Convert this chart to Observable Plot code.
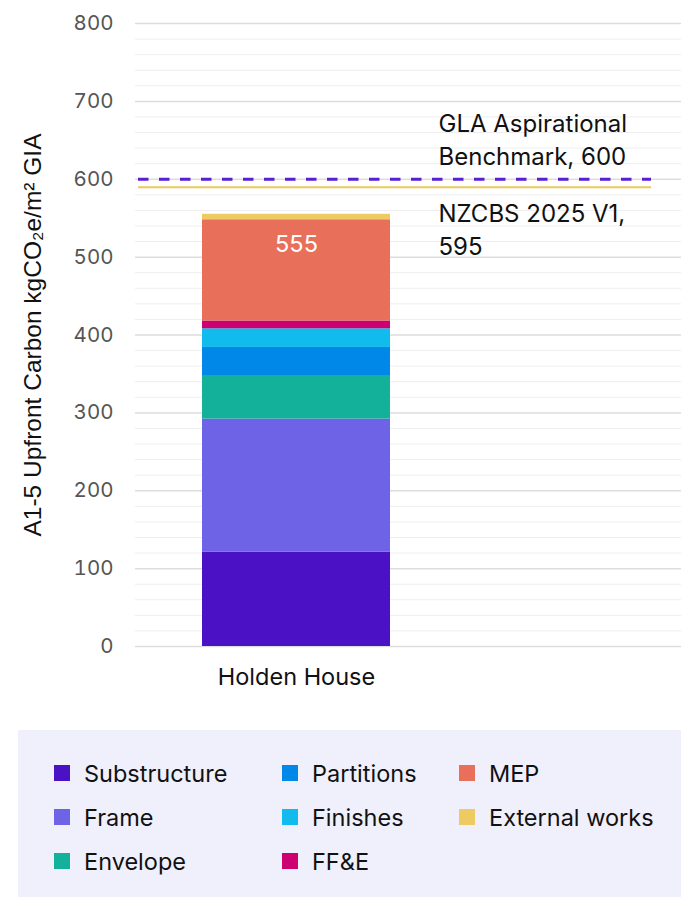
<!DOCTYPE html>
<html>
<head>
<meta charset="utf-8">
<script src="https://cdn.jsdelivr.net/npm/d3@7"></script>
<script src="https://cdn.jsdelivr.net/npm/@observablehq/plot@0.6"></script>
<style>
  html, body { margin: 0; padding: 0; background: #fff; }
  body { width: 681px; font-family: Inter, "Noto Sans", sans-serif; }
  #chart svg { display: block; }
  .legend {
    margin: 10px 0 0 18px;
    background: #f0effc;
    height: 167px;
    box-sizing: border-box;
    padding: 21px 0 0 36px;
    display: grid;
    grid-template-columns: 228px 177px auto;
    grid-auto-rows: 44px;
    font-size: 23.5px;
    color: #111;
  }
  .legend .item { display: flex; align-items: center; height: 44px; }
  .legend .sw { width: 16px; height: 16px; margin-right: 14px; flex: none; }
</style>
</head>
<body>
<div id="chart"></div>
<div class="legend" id="legend"></div>
<script>
// ---- data ----
const categories = ["Holden House"];
const elements = ["Substructure", "Frame", "Envelope", "Partitions", "Finishes", "FF&E", "MEP", "External works"];
const values = [121, 171, 56, 36, 24, 10, 130, 7];
const colors = ["#4a12c4", "#6e63e6", "#13b09a", "#0088e8", "#12bbee", "#cc0070", "#e8705a", "#edcb62"];
const totalLabel = [555];
const benchmarkNames = ["GLA Aspirational\nBenchmark, 600", "NZCBS 2025 V1,\n595"];
const benchmarkValues = [600, 595];
const yTicks = [0, 100, 200, 300, 400, 500, 600, 700, 800];
const yMinorTicks = [20, 40, 60, 80, 120, 140, 160, 180, 220, 240, 260, 280, 320, 340, 360, 380, 420, 440, 460, 480, 520, 540, 560, 580, 620, 640, 660, 680, 720, 740, 760, 780];
const yTitle = "A1-5 Upfront Carbon kgCO₂e/m² GIA";

const rows = elements.map((e, i) => ({building: categories[0], element: e, value: values[i]}));

const chart = Plot.plot({
  width: 681,
  height: 720,
  marginLeft: 135,
  marginRight: 0,
  marginTop: 23,
  marginBottom: 74,
  style: {fontFamily: "Inter, sans-serif", background: "#fff"},
  x: {domain: categories, range: [135, 458], padding: 0.262, label: null},
  y: {domain: [0, 800], label: null},
  color: {domain: elements, range: colors},
  marks: [
    Plot.ruleY(yMinorTicks, {stroke: "#eeeeee", strokeWidth: 1}),
    Plot.ruleY(yTicks, {stroke: "#dddddd", strokeWidth: 1.5}),
    Plot.axisY({ticks: yTicks, tickSize: 0, tickPadding: 22, fontSize: 20.5, fill: "#555", label: null}),
    Plot.text([yTitle], {
      frameAnchor: "left", textAnchor: "middle", dx: -102, rotate: -90, fontSize: 24.5,
      fontFamily: "Liberation Sans, Arial, sans-serif", fill: "#111"
    }),
    Plot.axisX({tickSize: 0, tickPadding: 22, fontSize: 23.5, fill: "#111", label: null}),
    Plot.barY(rows, {x: "building", y: "value", fill: "element"}),
    Plot.text(totalLabel, {x: () => categories[0], y: d => d, text: d => String(d), fill: "#fff", fontSize: 23.5, dy: 30}),
    Plot.ruleY([benchmarkValues[1]], {stroke: "#edc95a", strokeWidth: 2, insetLeft: 3, insetRight: 30, dy: 4}),
    Plot.ruleY([benchmarkValues[0]], {stroke: "#5a1fd1", strokeWidth: 3, strokeDasharray: "10.5,10.5", insetLeft: 3, insetRight: 30}),
    Plot.text([benchmarkValues[0]], {y: d => d, text: () => benchmarkNames[0], frameAnchor: "left", textAnchor: "start", lineAnchor: "middle", lineHeight: 1.36, dx: 303, dy: -41, fontSize: 24, fill: "#111"}),
    Plot.text([benchmarkValues[1]], {y: d => d, text: () => benchmarkNames[1], frameAnchor: "left", textAnchor: "start", lineAnchor: "middle", lineHeight: 1.36, dx: 303, dy: 45, fontSize: 24, fill: "#111"})
  ]
});
document.getElementById("chart").appendChild(chart);

const legend = document.getElementById("legend");
const order = [0, 3, 6, 1, 4, 7, 2, 5];
order.forEach(i => {
  const div = document.createElement("div");
  div.className = "item";
  div.innerHTML = `<span class="sw" style="background:${colors[i]}"></span><span></span>`;
  div.lastChild.textContent = elements[i];
  legend.appendChild(div);
});
</script>
</body>
</html>
